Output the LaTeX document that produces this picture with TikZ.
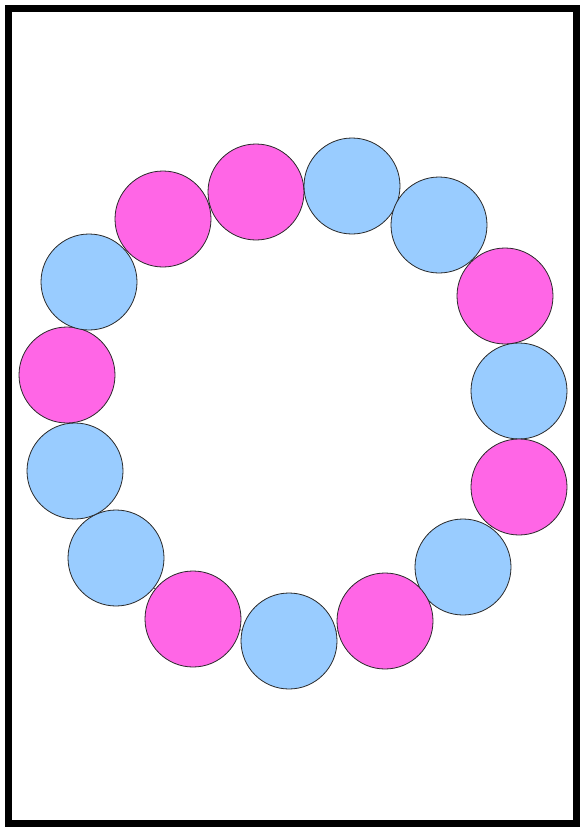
\documentclass[tikz,border=0pt]{standalone}
\usepackage{tikz}
\definecolor{beadpink}{RGB}{255,102,230}
\definecolor{beadblue}{RGB}{153,204,255}
\definecolor{beadline}{RGB}{40,40,40}

\begin{document}
\begin{tikzpicture}[x=1pt, y=-1pt]
\tikzstyle{bead}=[circle, draw=beadline, line width=0.8pt, minimum size=96pt, inner sep=0pt]
\tikzstyle{pinkbead}=[bead, fill=beadpink]
\tikzstyle{bluebead}=[bead, fill=beadblue]
\useasboundingbox (0,0) rectangle (580,827);
\draw[line width=7pt] (8.5,8.5) rectangle (576.5,823.5);

% ring positions
\foreach \i/\x/\y in {1/163/219, 2/256/192, 3/352/186, 4/439/225, 5/505/296,
  6/519/391, 7/519/487, 8/463/567, 9/385/621, 10/289/641, 11/193/619,
  12/116/558, 13/75/471, 14/67/375, 15/89/282}
  \coordinate (p\i) at (\x,\y);
\draw[beadline, line width=0.6pt] (p1) -- (p2) -- (p3) -- (p4) -- (p5) -- (p6) -- (p7) -- (p8)
  -- (p9) -- (p10) -- (p11) -- (p12) -- (p13) -- (p14) -- (p15) -- cycle;

% beads
\foreach \i/\c in {1/pinkbead, 2/pinkbead, 3/bluebead, 4/bluebead, 5/pinkbead,
  6/bluebead, 7/pinkbead, 8/bluebead, 9/pinkbead, 10/bluebead, 11/pinkbead,
  12/bluebead, 13/bluebead, 14/pinkbead, 15/bluebead}
  \node[\c] (b\i) at (p\i) {};
\end{tikzpicture}
\end{document}
